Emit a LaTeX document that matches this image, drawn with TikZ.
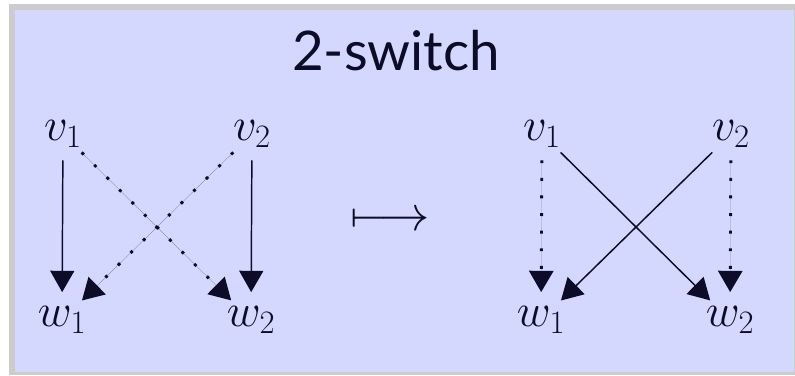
\RequirePackage{fix-cm}
\documentclass[tikz,border=0pt]{standalone}
\usepackage{fontspec}
\newfontfamily\titlefont{Lato}
\usetikzlibrary{arrows.meta}
\definecolor{slidebg}{RGB}{212,216,255}
\definecolor{framegray}{RGB}{204,204,204}
\definecolor{ink}{RGB}{12,12,40}

\begin{document}
\begin{tikzpicture}[x=0.75pt,y=-0.75pt,>={Triangle[length=16pt,width=18pt]},
    vert/.style={circle,inner sep=0pt,minimum size=39pt,text=ink,
      font=\fontsize{35}{42}\selectfont},
    solidarr/.style={->,draw=ink,fill=ink,line width=1.1pt},
    dotarr/.style={->,draw=ink,fill=ink,line width=2.2pt,
      dash pattern=on 2.2pt off 11pt}]
  % Slide background with grey frame.
  \fill[white] (0,0) rectangle (795,375);
  \fill[framegray] (9,4) rectangle (795,375);
  \fill[slidebg] (15,10) rectangle (794,372);
  \useasboundingbox (0,0) rectangle (795,375);
  % Title.
  \node[font=\titlefont\fontsize{41}{48}\selectfont,text=ink,anchor=base]
    (title) at (396,70) {2-switch};
  % Left pair of edges (before the switch).
  \node[vert] (lv1) at (63,134) {$v_1$};
  \node[vert] (lv2) at (252,134) {$v_2$};
  \node[vert] (lw1) at (62,320) {$w_1$};
  \node[vert] (lw2) at (251,320) {$w_2$};
  \draw[solidarr] (lv1) -- (lw1);
  \draw[solidarr] (lv2) -- (lw2);
  \draw[dotarr] (lv1) -- (lw2);
  \draw[dotarr] (lv2) -- (lw1);
  % The switch.
  \node[text=ink,font=\fontsize{37}{44}\selectfont] (mapsto) at (390,221)
    {$\longmapsto$};
  % Right pair of edges (after the switch).
  \node[vert] (rv1) at (542,134) {$v_1$};
  \node[vert] (rv2) at (731,134) {$v_2$};
  \node[vert] (rw1) at (541,320) {$w_1$};
  \node[vert] (rw2) at (730,320) {$w_2$};
  \draw[dotarr] (rv1) -- (rw1);
  \draw[dotarr] (rv2) -- (rw2);
  \draw[solidarr] (rv1) -- (rw2);
  \draw[solidarr] (rv2) -- (rw1);
\end{tikzpicture}
\end{document}
